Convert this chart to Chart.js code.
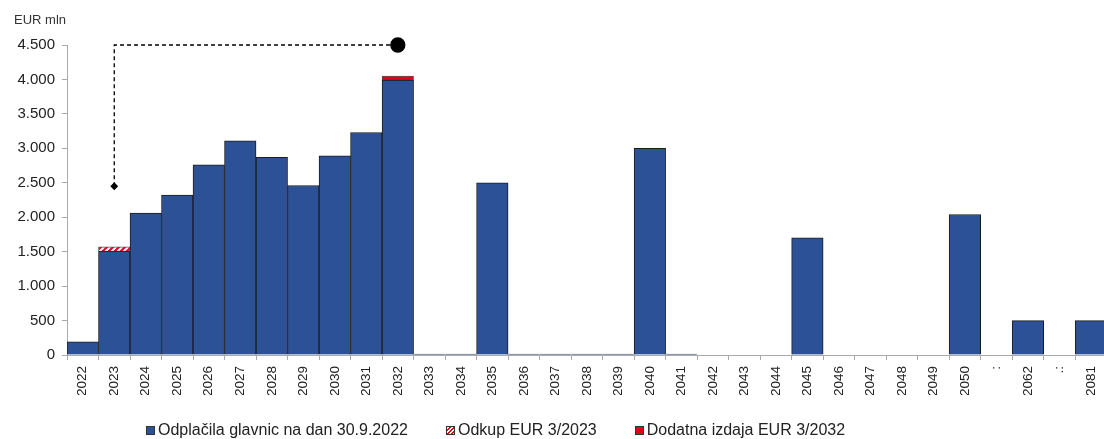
<!DOCTYPE html>
<html>
<head>
<meta charset="utf-8">
<script src="https://cdn.jsdelivr.net/npm/chart.js@4.4.1/dist/chart.umd.min.js"></script>
<style>
    html, body { margin: 0; padding: 0; background: #fff; overflow: hidden; }
    #wrap { position: relative; width: 1104px; height: 439px; overflow: hidden; }
    #debtChart { position: absolute; left: 0; top: 0; }
    #legend {
        position: absolute; left: 146px; top: 421px;
        display: flex; font-family: "Liberation Sans", Arial, sans-serif;
        font-size: 16px; color: #222; white-space: nowrap;
    }
    #legend span.item { display: flex; align-items: center; margin-right: 38px; }
    #legend span.box { width: 7px; height: 7px; border: 1px solid #333; margin-right: 3px; }
</style>
</head>
<body>
<div id="wrap">
    <canvas id="debtChart" width="1115" height="439"></canvas>
    <div id="legend"></div>
</div>
<script>
const years = ['2022', '2023', '2024', '2025', '2026', '2027', '2028', '2029', '2030', '2031',
    '2032', '2033', '2034', '2035', '2036', '2037', '2038', '2039', '2040', '2041',
    '2042', '2043', '2044', '2045', '2046', '2047', '2048', '2049', '2050', ':',
    '2062', '.:', '2081'];

// EUR mln
const principal = [190, 1510, 2060, 2320, 2760, 3110, 2870, 2460, 2890, 3230,
    3990, 15, 15, 2500, 15, 15, 15, 15, 3000, 15,
    null, null, null, 1700, null, null, null, null, 2040, null,
    500, null, 500];
const buyback = [null, 60];           // Odkup EUR 3/2023
const extraIssue = [];                 // Dodatna izdaja EUR 3/2032
extraIssue[10] = 60;

// dashed marker from 2023 to 2032
const markerPoints = [
    { x: '2023', y: 2450 },
    { x: '2023', y: 4500 },
    { x: '2032', y: 4500 }
];

const yTicks = [0, 500, 1000, 1500, 2000, 2500, 3000, 3500, 4000, 4500];

const blue = '#2d5196';
const red = '#e3001b';

function hatchPattern() {
    const c = document.createElement('canvas');
    c.width = 6; c.height = 6;
    const g = c.getContext('2d');
    g.fillStyle = '#fff';
    g.fillRect(0, 0, 6, 6);
    g.strokeStyle = red;
    g.lineWidth = 2;
    g.beginPath();
    g.moveTo(-1, 7); g.lineTo(7, -1);
    g.moveTo(-4, 4); g.lineTo(4, -4);
    g.moveTo(2, 10); g.lineTo(10, 2);
    g.stroke();
    return g.createPattern(c, 'repeat');
}

const hatch = hatchPattern();

const unitLabel = {
    id: 'unitLabel',
    afterDraw(chart) {
        const ctx = chart.ctx;
        ctx.save();
        ctx.font = '13px "Liberation Sans", Arial, sans-serif';
        ctx.fillStyle = '#333';
        ctx.textBaseline = 'middle';
        ctx.fillText('EUR mln', 14, 20);
        ctx.restore();
    }
};

const font = { family: '"Liberation Sans", Arial, sans-serif' };

const chart = new Chart(document.getElementById('debtChart'), {
    data: {
        labels: years,
        datasets: [
            {
                type: 'line',
                label: 'marker',
                data: markerPoints,
                stack: 'marker',
                borderColor: '#000',
                borderWidth: 1.3,
                borderDash: [4, 3],
                pointStyle: ['rectRot', 'circle', 'circle'],
                pointRadius: [3, 0, 7],
                pointBackgroundColor: '#000',
                pointBorderColor: '#000',
                clip: false,
                order: 0
            },
            {
                type: 'bar',
                label: 'Odplačila glavnic na dan 30.9.2022',
                data: principal,
                backgroundColor: blue,
                borderColor: '#1c1c1c',
                borderWidth: 1,
                stack: 'debt',
                order: 1
            },
            {
                type: 'bar',
                label: 'Odkup EUR 3/2023',
                data: buyback,
                backgroundColor: hatch,
                borderColor: '#555',
                borderWidth: 1,
                stack: 'debt',
                order: 1
            },
            {
                type: 'bar',
                label: 'Dodatna izdaja EUR 3/2032',
                data: extraIssue,
                backgroundColor: red,
                borderColor: '#555',
                borderWidth: 1,
                stack: 'debt',
                order: 1
            }
        ]
    },
    options: {
        responsive: false,
        animation: false,
        layout: { padding: { top: 45, bottom: 44, left: 0, right: 0 } },
        datasets: { bar: { barPercentage: 1, categoryPercentage: 1 } },
        plugins: { legend: { display: false }, tooltip: { enabled: false } },
        scales: {
            x: {
                stacked: true,
                grid: { drawOnChartArea: false, offset: true, color: '#aaa', tickLength: 5 },
                border: { color: '#aaa' },
                ticks: {
                    autoSkip: false, minRotation: 90, maxRotation: 90,
                    color: '#222', padding: 6,
                    font: { ...font, size: 13.5 }
                },
                afterFit(scale) { scale.height = 40; }
            },
            y: {
                stacked: true,
                min: 0, max: 4500,
                afterBuildTicks(scale) { scale.ticks = yTicks.map(v => ({ value: v })); },
                grid: { drawOnChartArea: false, color: '#aaa', tickLength: 5 },
                border: { color: '#aaa' },
                ticks: {
                    color: '#222', padding: 7,
                    font: { ...font, size: 15 },
                    callback: v => v.toString().replace(/\B(?=(\d{3})+(?!\d))/g, '.')
                },
                afterFit(scale) { scale.width = 67; }
            }
        }
    },
    plugins: [unitLabel]
});

// html legend built from the bar datasets
const legend = document.getElementById('legend');
chart.data.datasets.filter(d => d.type === 'bar').forEach(d => {
    const item = document.createElement('span');
    item.className = 'item';
    const box = document.createElement('span');
    box.className = 'box';
    if (d.backgroundColor === hatch) {
        box.style.background = 'repeating-linear-gradient(135deg, #fff 0 1.5px, ' + red + ' 1.5px 3px)';
    } else {
        box.style.background = d.backgroundColor;
    }
    item.appendChild(box);
    item.appendChild(document.createTextNode(d.label));
    legend.appendChild(item);
});
</script>
</body>
</html>
